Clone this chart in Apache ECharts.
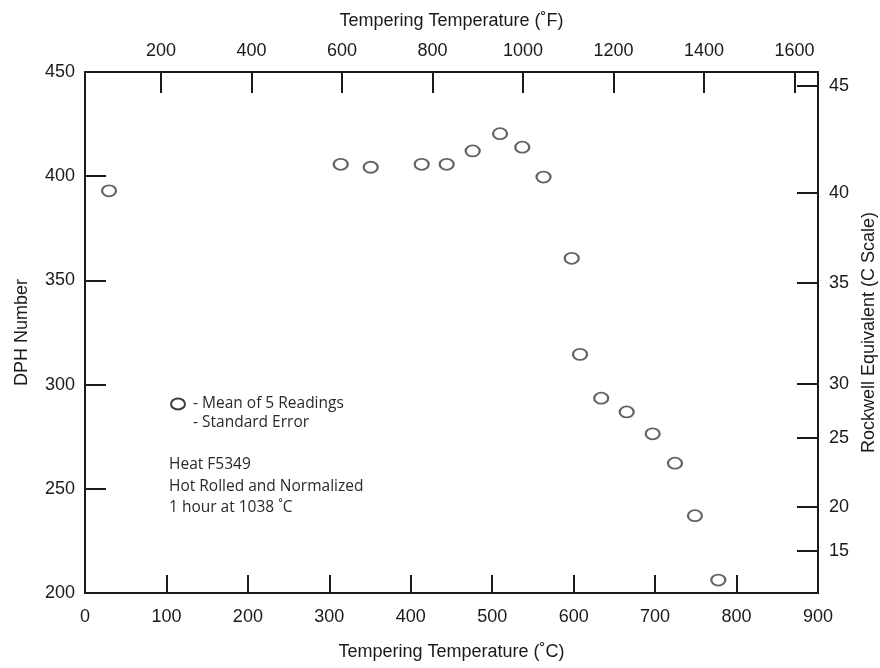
<!DOCTYPE html>
<html>
<head>
<meta charset="utf-8">
<script src="https://cdn.jsdelivr.net/npm/echarts@6/dist/echarts.min.js"></script>
<style>
html,body{margin:0;padding:0;background:#fff;overflow:hidden;}
#chart{width:880px;height:668px;}
</style>
</head>
<body>
<div id="chart"></div>
<script>
// Tempering temperature (°C) and DPH hardness (mean of 5 readings)
const tempC = [29.5, 314, 350.8, 413.4, 444.1, 476, 509.6, 536.9, 563, 597.6, 607.8, 633.8, 665.1, 697, 724.4, 748.9, 777.6];
const dph   = [393, 405.7, 404.3, 405.7, 405.7, 412.1, 420.4, 413.9, 399.6, 360.6, 314.5, 293.5, 286.9, 276.4, 262.3, 237.1, 206.2];

// Bottom axis (°C)
const celsiusMin = 0, celsiusMax = 900, celsiusStep = 100;
// Left axis (DPH)
const dphMin = 200, dphMax = 450, dphStep = 50;
// Top axis (°F) tick labels
const fahrenheitTicks = [200, 400, 600, 800, 1000, 1200, 1400, 1600];
// Right axis: Rockwell C labels and their DPH equivalents
const rockwellTicks = [45, 40, 35, 30, 25, 20, 15];
const rockwellDph   = [443.4, 392.1, 348.8, 300.3, 274.4, 241.3, 220.2];

// Annotation texts
const noteLegend = ['- Mean of 5 Readings', '- Standard Error'];
const noteHeat = ['Heat F5349', 'Hot Rolled and Normalized', '1 hour at 1038 ˚C'];

const toF = c => c * 9 / 5 + 32;
const FONT = '"Liberation Sans", Arial, Helvetica, sans-serif';
const NOTE_FONT = '"Open Sans", "Noto Sans", sans-serif';
const INK = '#1a1a1a';

const chart = echarts.init(document.getElementById('chart'), null, {renderer: 'canvas', width: 880, height: 668});

const lineStyle = {color: INK, width: 2};
const labelStyle = {color: INK, fontSize: 18, fontFamily: FONT};
const nameStyle = {color: INK, fontSize: 18, fontFamily: FONT};
const plain = v => String(Math.round(v));

const option = {
  animation: false,
  backgroundColor: '#fff',
  grid: {left: 85, right: 62, top: 72, bottom: 75, containLabel: false, outerBoundsMode: 'none'},
  xAxis: [
    {
      type: 'value', position: 'bottom',
      min: celsiusMin, max: celsiusMax, interval: celsiusStep,
      name: 'Tempering Temperature (˚C)', nameLocation: 'middle', nameGap: 50,
      nameTextStyle: nameStyle,
      axisLine: {show: true, onZero: false, lineStyle},
      axisTick: {show: true, inside: true, length: 18, lineStyle},
      axisLabel: Object.assign({margin: 15, formatter: plain}, labelStyle),
      splitLine: {show: false}
    },
    {
      type: 'value', position: 'top',
      min: toF(celsiusMin), max: toF(celsiusMax),
      name: 'Tempering Temperature (˚F)', nameLocation: 'middle', nameGap: 42,
      nameTextStyle: nameStyle,
      axisLine: {show: true, onZero: false, lineStyle},
      axisTick: {show: true, inside: true, length: 21, lineStyle, customValues: fahrenheitTicks},
      axisLabel: Object.assign({margin: 12, customValues: fahrenheitTicks, formatter: plain}, labelStyle),
      splitLine: {show: false}
    }
  ],
  yAxis: [
    {
      type: 'value', position: 'left',
      min: dphMin, max: dphMax, interval: dphStep,
      name: 'DPH Number', nameLocation: 'middle', nameGap: 54,
      nameTextStyle: nameStyle,
      axisLine: {show: true, onZero: false, lineStyle},
      axisTick: {show: true, inside: true, length: 21, lineStyle},
      axisLabel: Object.assign({margin: 10, formatter: plain}, labelStyle),
      splitLine: {show: false}
    },
    {
      type: 'value', position: 'right',
      min: dphMin, max: dphMax,
      name: 'Rockwell Equivalent (C Scale)', nameLocation: 'middle', nameGap: 42, nameRotate: 90,
      nameTextStyle: nameStyle,
      axisLine: {show: true, onZero: false, lineStyle},
      axisTick: {show: true, inside: true, length: 21, lineStyle, customValues: rockwellDph},
      axisLabel: Object.assign({
        margin: 11,
        customValues: rockwellDph,
        formatter: v => {
          let best = 0;
          for (let i = 0; i < rockwellDph.length; i++) {
            if (Math.abs(rockwellDph[i] - v) < Math.abs(rockwellDph[best] - v)) best = i;
          }
          return String(rockwellTicks[best]);
        }
      }, labelStyle),
      splitLine: {show: false}
    }
  ],
  series: [
    {
      type: 'scatter',
      xAxisIndex: 0, yAxisIndex: 0,
      data: tempC.map((c, i) => [c, dph[i]]),
      symbol: 'circle',
      symbolSize: [14, 11],
      itemStyle: {color: '#fff', borderColor: '#3c3c3c', borderWidth: 2},
      silent: true
    }
  ],
  graphic: [
    {type: 'ellipse', shape: {cx: 178, cy: 404, rx: 7, ry: 5.5}, style: {fill: '#fff', stroke: '#3c3c3c', lineWidth: 2}},
    {type: 'text', left: 193, top: 396, style: {text: noteLegend[0], fill: '#2a2a2a', font: '15.5px ' + NOTE_FONT}},
    {type: 'text', left: 193, top: 415, style: {text: noteLegend[1], fill: '#2a2a2a', font: '15.5px ' + NOTE_FONT}},
    {type: 'text', left: 169, top: 457, style: {text: noteHeat[0], fill: '#2a2a2a', font: '15.5px ' + NOTE_FONT}},
    {type: 'text', left: 169, top: 478.5, style: {text: noteHeat[1], fill: '#2a2a2a', font: '15.5px ' + NOTE_FONT}},
    {type: 'text', left: 169, top: 500, style: {text: noteHeat[2], fill: '#2a2a2a', font: '15.5px ' + NOTE_FONT}}
  ]
};
chart.setOption(option);
</script>
</body>
</html>
